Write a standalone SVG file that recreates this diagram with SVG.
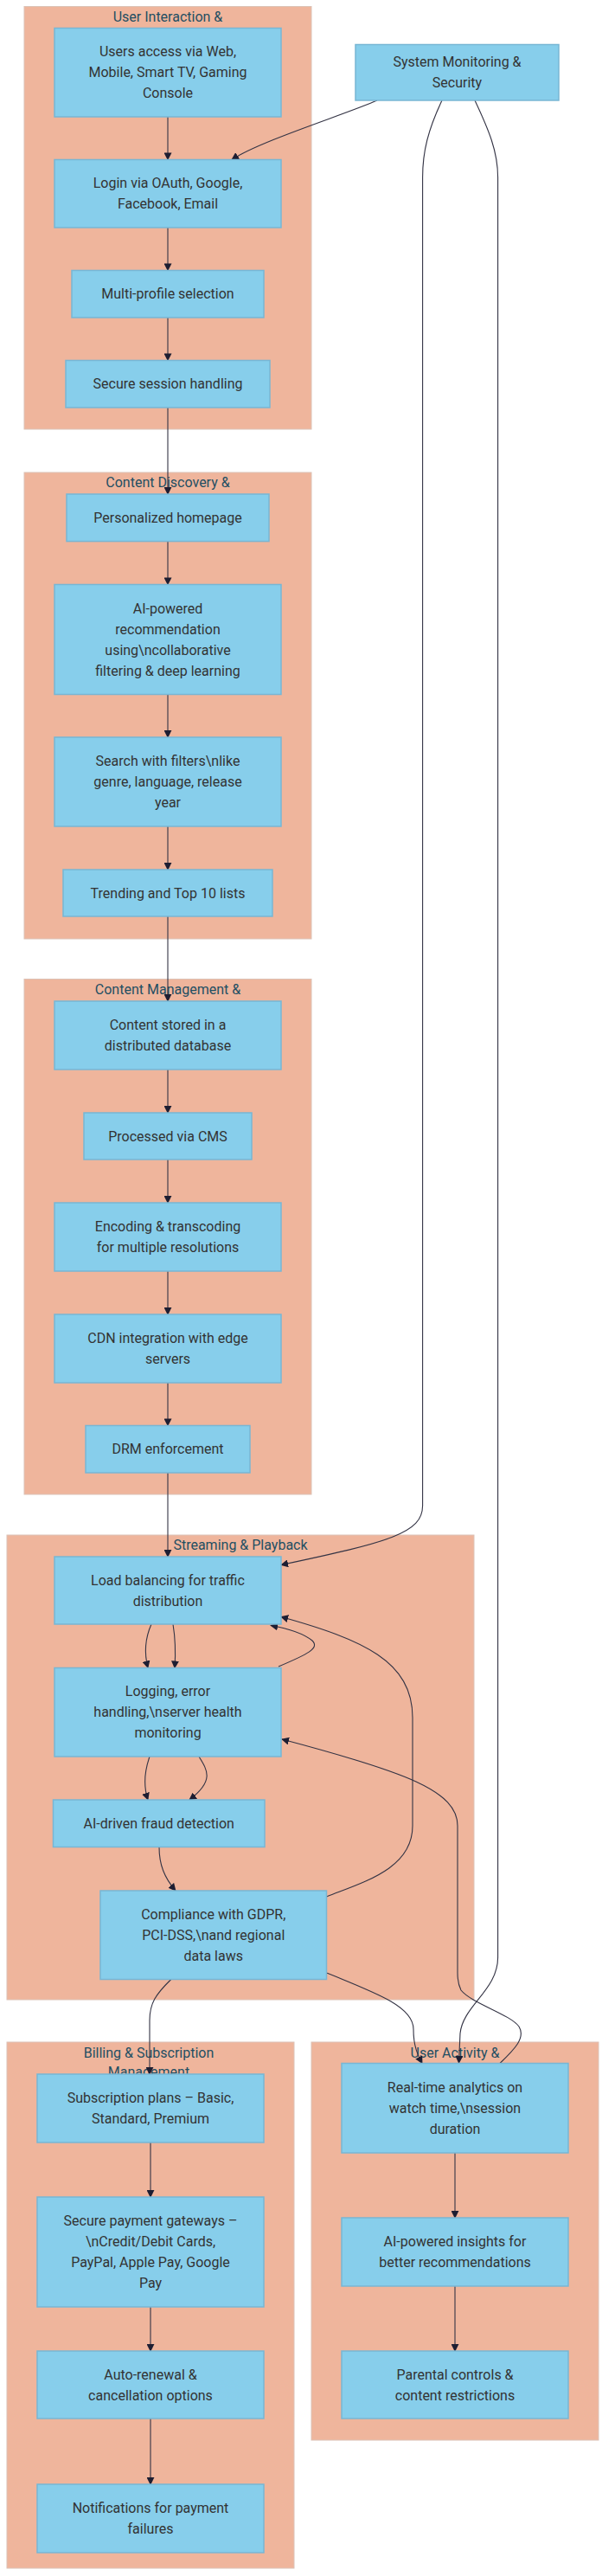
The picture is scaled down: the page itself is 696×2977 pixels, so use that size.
<svg xmlns="http://www.w3.org/2000/svg" width="696" height="2977" viewBox="0 0 696 2977">
<defs>
<marker id="arr" viewBox="0 0 10 10" refX="9" refY="5" markerWidth="9" markerHeight="9" markerUnits="userSpaceOnUse" orient="auto">
<path d="M0,0 L10,5 L0,10 z" fill="#1e1e32"/>
</marker>
<style>
.cl{fill:#efb59c;stroke:#dcc2b6;stroke-width:1}
.ct{font-family:Roboto,"Liberation Sans",sans-serif;font-size:16px;fill:#1f4f63;text-anchor:middle}
.nd{fill:#87ceeb;stroke:#78b6d4;stroke-width:1.5}
.nt{font-family:Roboto,"Liberation Sans",sans-serif;font-size:16px;fill:#333333;text-anchor:middle}
.ed{fill:none;stroke:#333344;stroke-width:1.1;marker-end:url(#arr)}
</style>
</defs>
<rect width="696" height="2977" fill="#ffffff"/>

<g id="cluster-user-interaction">
<rect class="cl" x="28" y="7.5" width="332" height="488.5"/>
<text class="ct" x="194" y="25">User Interaction &amp;</text>
</g>
<g id="cluster-content-discovery">
<rect class="cl" x="28" y="546" width="332" height="539"/>
<text class="ct" x="194" y="563">Content Discovery &amp;</text>
</g>
<g id="cluster-content-management">
<rect class="cl" x="28" y="1131.5" width="332" height="595.5"/>
<text class="ct" x="194" y="1149">Content Management &amp;</text>
</g>
<g id="cluster-streaming">
<rect class="cl" x="8" y="1774" width="540" height="537"/>
<text class="ct" x="278" y="1791">Streaming &amp; Playback</text>
</g>
<g id="cluster-billing">
<rect class="cl" x="8" y="2360" width="332" height="608"/>
<text class="ct" x="172" y="2377.5">Billing &amp; Subscription</text>
<text class="ct" x="172" y="2400">Management</text>
</g>
<g id="cluster-user-activity">
<rect class="cl" x="360" y="2360" width="332" height="460"/>
<text class="ct" x="526" y="2377.5">User Activity &amp;</text>
</g>

<g id="connectors">
<path class="ed" d="M194,135 L194,184.5"/>
<path class="ed" d="M436,116 C400,132 300,163 268,184.5"/>
<path class="ed" d="M194,263 L194,312.5"/>
<path class="ed" d="M194,367 L194,416.5"/>
<path class="ed" d="M194,471 L194,571"/>
<path class="ed" d="M194,625.6 L194,675.5"/>
<path class="ed" d="M194,802.5 L194,852"/>
<path class="ed" d="M194,955 L194,1005"/>
<path class="ed" d="M194,1059 L194,1157"/>
<path class="ed" d="M194,1236 L194,1286"/>
<path class="ed" d="M194,1340 L194,1390"/>
<path class="ed" d="M194,1469 L194,1519"/>
<path class="ed" d="M194,1598 L194,1647.5"/>
<path class="ed" d="M194,1702 L194,1799"/>
<path class="ed" d="M511,116 C495,150 488.6,175 488.6,205 L488.6,1740 C488.6,1772 450,1782 325,1808.5"/>
<path class="ed" d="M549,116 C565,150 575.6,175 575.6,205 L575.6,2262 C575.6,2300 535,2318 532,2350 L530.5,2384"/>
<path class="ed" d="M175,1877 C167,1895 167,1912 171,1927.5"/>
<path class="ed" d="M200,1877 C203,1895 203,1912 202,1927.5"/>
<path class="ed" d="M322,1926 C355,1912 370,1905 361,1896 C351,1888 333,1882 313,1878.5"/>
<path class="ed" d="M377.5,2192 C420,2175 477,2160 477,2110 L477,1985 C477,1920 420,1895 325,1868.5"/>
<path class="ed" d="M173,2030 C166,2050 166,2065 171,2080"/>
<path class="ed" d="M230,2030 C240,2046 248,2058 219,2080"/>
<path class="ed" d="M184,2134.5 C184,2155 190,2170 203,2185"/>
<path class="ed" d="M197.7,2287.5 C180,2305 173,2315 173,2335 L173,2397"/>
<path class="ed" d="M377.5,2280 C440,2305 478,2320 478,2345 C478,2365 483,2375 488,2384.5"/>
<path class="ed" d="M578,2384.5 C595,2368 608,2355 600,2342 C590,2328 545,2315 533,2300 Q529,2292 529,2280 L529,2110 C529,2070 470,2048 326,2010"/>
<path class="ed" d="M174,2476 L174,2539"/>
<path class="ed" d="M174,2666 L174,2717"/>
<path class="ed" d="M174,2795 L174,2871"/>
<path class="ed" d="M526,2488 L526,2563"/>
<path class="ed" d="M526,2642 L526,2717"/>
</g>

<g id="node-users-access">
<rect class="nd" x="63" y="32.5" width="262" height="102.5"/>
<text class="nt" x="194"><tspan x="194" y="65.3">Users access via Web,</tspan><tspan x="194" y="89.3">Mobile, Smart TV, Gaming</tspan><tspan x="194" y="113.3">Console</tspan></text>
</g>
<g id="node-login">
<rect class="nd" x="63" y="184.5" width="262" height="78.5"/>
<text class="nt"><tspan x="194" y="217.3">Login via OAuth, Google,</tspan><tspan x="194" y="241.3">Facebook, Email</tspan></text>
</g>
<g id="node-multi-profile">
<rect class="nd" x="83" y="312.5" width="222" height="54.5"/>
<text class="nt" x="194" y="345.3">Multi-profile selection</text>
</g>
<g id="node-secure-session">
<rect class="nd" x="76" y="416.5" width="236" height="54.5"/>
<text class="nt" x="194" y="449.3">Secure session handling</text>
</g>
<g id="node-system-monitoring">
<rect class="nd" x="411" y="51.5" width="235" height="64.5"/>
<text class="nt"><tspan x="528.5" y="77.3">System Monitoring &amp;</tspan><tspan x="528.5" y="101.3">Security</tspan></text>
</g>
<g id="node-personalized">
<rect class="nd" x="77" y="571" width="234" height="54.6"/>
<text class="nt" x="194" y="603.8">Personalized homepage</text>
</g>
<g id="node-ai-recommendation">
<rect class="nd" x="63" y="675.5" width="262" height="127"/>
<text class="nt"><tspan x="194" y="708.5">AI-powered</tspan><tspan x="194" y="732.5">recommendation</tspan><tspan x="194" y="756.5">using\ncollaborative</tspan><tspan x="194" y="780.5">filtering &amp; deep learning</tspan></text>
</g>
<g id="node-search">
<rect class="nd" x="63" y="852" width="262" height="103"/>
<text class="nt"><tspan x="194" y="885">Search with filters\nlike</tspan><tspan x="194" y="909">genre, language, release</tspan><tspan x="194" y="933">year</tspan></text>
</g>
<g id="node-trending">
<rect class="nd" x="73" y="1005" width="242" height="54"/>
<text class="nt" x="194" y="1037.5">Trending and Top 10 lists</text>
</g>
<g id="node-content-stored">
<rect class="nd" x="63" y="1157" width="262" height="79"/>
<text class="nt"><tspan x="194" y="1190">Content stored in a</tspan><tspan x="194" y="1214">distributed database</tspan></text>
</g>
<g id="node-cms">
<rect class="nd" x="97" y="1286" width="194" height="54"/>
<text class="nt" x="194" y="1318.5">Processed via CMS</text>
</g>
<g id="node-encoding">
<rect class="nd" x="63" y="1390" width="262" height="79"/>
<text class="nt"><tspan x="194" y="1423">Encoding &amp; transcoding</tspan><tspan x="194" y="1447">for multiple resolutions</tspan></text>
</g>
<g id="node-cdn">
<rect class="nd" x="63" y="1519" width="262" height="79"/>
<text class="nt"><tspan x="194" y="1552">CDN integration with edge</tspan><tspan x="194" y="1576">servers</tspan></text>
</g>
<g id="node-drm">
<rect class="nd" x="99" y="1647.5" width="190" height="54.5"/>
<text class="nt" x="194" y="1680.3">DRM enforcement</text>
</g>
<g id="node-load-balancing">
<rect class="nd" x="63" y="1799" width="262" height="78"/>
<text class="nt"><tspan x="194" y="1831.5">Load balancing for traffic</tspan><tspan x="194" y="1855.5">distribution</tspan></text>
</g>
<g id="node-logging">
<rect class="nd" x="63" y="1927.5" width="262" height="102.5"/>
<text class="nt"><tspan x="194" y="1960.3">Logging, error</tspan><tspan x="194" y="1984.3">handling,\nserver health</tspan><tspan x="194" y="2008.3">monitoring</tspan></text>
</g>
<g id="node-fraud">
<rect class="nd" x="61.5" y="2080" width="244.5" height="54.5"/>
<text class="nt" x="183.75" y="2112.8">AI-driven fraud detection</text>
</g>
<g id="node-compliance">
<rect class="nd" x="116" y="2185" width="261.5" height="102.5"/>
<text class="nt"><tspan x="246.75" y="2217.8">Compliance with GDPR,</tspan><tspan x="246.75" y="2241.8">PCI-DSS,\nand regional</tspan><tspan x="246.75" y="2265.8">data laws</tspan></text>
</g>
<g id="node-subscription-plans">
<rect class="nd" x="43" y="2397" width="262" height="79"/>
<text class="nt"><tspan x="174" y="2430">Subscription plans – Basic,</tspan><tspan x="174" y="2454">Standard, Premium</tspan></text>
</g>
<g id="node-payment">
<rect class="nd" x="43" y="2539" width="262" height="127"/>
<text class="nt"><tspan x="174" y="2572">Secure payment gateways –</tspan><tspan x="174" y="2596">\nCredit/Debit Cards,</tspan><tspan x="174" y="2620">PayPal, Apple Pay, Google</tspan><tspan x="174" y="2644">Pay</tspan></text>
</g>
<g id="node-auto-renewal">
<rect class="nd" x="43" y="2717" width="262" height="78"/>
<text class="nt"><tspan x="174" y="2749.5">Auto-renewal &amp;</tspan><tspan x="174" y="2773.5">cancellation options</tspan></text>
</g>
<g id="node-notifications">
<rect class="nd" x="43" y="2871" width="262" height="79"/>
<text class="nt"><tspan x="174" y="2904">Notifications for payment</tspan><tspan x="174" y="2928">failures</tspan></text>
</g>
<g id="node-analytics">
<rect class="nd" x="395" y="2384.5" width="262" height="103.5"/>
<text class="nt"><tspan x="526" y="2417.8">Real-time analytics on</tspan><tspan x="526" y="2441.8">watch time,\nsession</tspan><tspan x="526" y="2465.8">duration</tspan></text>
</g>
<g id="node-ai-insights">
<rect class="nd" x="395" y="2563" width="262" height="79"/>
<text class="nt"><tspan x="526" y="2596">AI-powered insights for</tspan><tspan x="526" y="2620">better recommendations</tspan></text>
</g>
<g id="node-parental">
<rect class="nd" x="395" y="2717" width="262" height="78"/>
<text class="nt"><tspan x="526" y="2749.5">Parental controls &amp;</tspan><tspan x="526" y="2773.5">content restrictions</tspan></text>
</g>
</svg>
